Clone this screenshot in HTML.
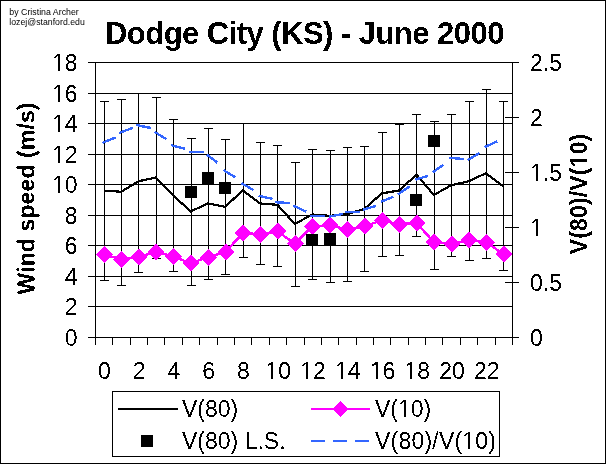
<!DOCTYPE html>
<html><head><meta charset="utf-8"><style>
html,body{margin:0;padding:0;background:#fff;}
svg{display:block;}
text{filter:url(#bin);font-family:"Liberation Sans",Arial,sans-serif;fill:#000;}
</style></head><body>
<svg width="607" height="465" viewBox="0 0 607 465">
<defs><filter id="bin" x="-0.2" y="-0.2" width="1.4" height="1.4"><feComponentTransfer><feFuncA type="discrete" tableValues="0 1"/></feComponentTransfer></filter></defs>
<rect x="0" y="0" width="607" height="465" fill="#fff"/>
<rect x="0.5" y="0.5" width="605" height="463" fill="none" stroke="#000" stroke-width="1" shape-rendering="crispEdges"/>

<text style="filter:none" x="9.3" y="15" font-size="8.8" textLength="69.5" lengthAdjust="spacingAndGlyphs">by Cristina Archer</text>
<text style="filter:none" x="9.3" y="25" font-size="8.8" textLength="75.5" lengthAdjust="spacingAndGlyphs">lozej@stanford.edu</text>
<text x="105" y="44" font-size="31" font-weight="bold" textLength="399.4" lengthAdjust="spacing">Dodge City (KS) - June 2000</text>
<path d="M88 62.5H519 M88 93.5H513 M88 123.5H513 M88 154.5H513 M88 184.5H513 M88 215.5H513 M88 245.5H513 M88 276.5H513 M88 306.5H513 M88 337.5H513" stroke="#000" stroke-width="1" fill="none" shape-rendering="crispEdges"/>
<path d="M505 62.5H519 M505 117.5H519 M505 172.5H519 M505 227.5H519 M505 282.5H519 M505 337.5H519" stroke="#000" stroke-width="1" fill="none" shape-rendering="crispEdges"/>
<path d="M95.5 62V338 M512.5 62V338 M95 337.5H513" stroke="#000" stroke-width="1" fill="none" shape-rendering="crispEdges"/>
<path d="M95.5 337V345 M112.5 337V345 M130.5 337V345 M147.5 337V345 M164.5 337V345 M182.5 337V345 M199.5 337V345 M217.5 337V345 M234.5 337V345 M251.5 337V345 M269.5 337V345 M286.5 337V345 M304.5 337V345 M321.5 337V345 M338.5 337V345 M356.5 337V345 M373.5 337V345 M390.5 337V345 M408.5 337V345 M425.5 337V345 M442.5 337V345 M460.5 337V345 M477.5 337V345 M495.5 337V345 M512.5 337V345" stroke="#000" stroke-width="1" fill="none" shape-rendering="crispEdges"/>
<text x="77.5" y="71" font-size="23" text-anchor="end">18</text>
<text x="77.5" y="102" font-size="23" text-anchor="end">16</text>
<text x="77.5" y="132" font-size="23" text-anchor="end">14</text>
<text x="77.5" y="163" font-size="23" text-anchor="end">12</text>
<text x="77.5" y="193" font-size="23" text-anchor="end">10</text>
<text x="77.5" y="224" font-size="23" text-anchor="end">8</text>
<text x="77.5" y="254" font-size="23" text-anchor="end">6</text>
<text x="77.5" y="285" font-size="23" text-anchor="end">4</text>
<text x="77.5" y="315" font-size="23" text-anchor="end">2</text>
<text x="77.5" y="346" font-size="23" text-anchor="end">0</text>
<text x="530" y="71" font-size="23">2.5</text>
<text x="530" y="126" font-size="23">2</text>
<text x="530" y="181" font-size="23">1.5</text>
<text x="530" y="236" font-size="23">1</text>
<text x="530" y="291" font-size="23">0.5</text>
<text x="530" y="346" font-size="23">0</text>
<text x="104.49" y="379" font-size="23" text-anchor="middle">0</text>
<text x="139.24" y="379" font-size="23" text-anchor="middle">2</text>
<text x="173.99" y="379" font-size="23" text-anchor="middle">4</text>
<text x="208.74" y="379" font-size="23" text-anchor="middle">6</text>
<text x="243.49" y="379" font-size="23" text-anchor="middle">8</text>
<text x="278.24" y="379" font-size="23" text-anchor="middle">10</text>
<text x="312.99" y="379" font-size="23" text-anchor="middle">12</text>
<text x="347.74" y="379" font-size="23" text-anchor="middle">14</text>
<text x="382.49" y="379" font-size="23" text-anchor="middle">16</text>
<text x="417.24" y="379" font-size="23" text-anchor="middle">18</text>
<text x="451.99" y="379" font-size="23" text-anchor="middle">20</text>
<text x="486.74" y="379" font-size="23" text-anchor="middle">22</text>
<text transform="translate(34.5 198.5) rotate(-90)" font-size="23" font-weight="bold" text-anchor="middle" textLength="192" lengthAdjust="spacing">Wind speed (m/s)</text>
<text transform="translate(587 194) rotate(-90)" font-size="23" font-weight="bold" text-anchor="middle" textLength="120.5" lengthAdjust="spacing">V(80)/V(10)</text>
<path d="M104.5 101V281 M100 101.5H109 M100 280.5H109 M121.5 99V286 M117 99.5H126 M117 285.5H126 M138.5 93V273 M134 93.5H143 M134 272.5H143 M156.5 97V259 M152 97.5H161 M152 258.5H161 M173.5 119V272 M169 119.5H178 M169 271.5H178 M191.5 138V286 M187 138.5H196 M187 285.5H196 M208.5 128V280 M204 128.5H213 M204 279.5H213 M225.5 139V275 M221 139.5H230 M221 274.5H230 M243.5 123V258 M239 123.5H248 M239 257.5H248 M260.5 142V265 M256 142.5H265 M256 264.5H265 M277.5 145V267 M273 145.5H282 M273 266.5H282 M295.5 162V287 M291 162.5H300 M291 286.5H300 M312.5 149V280 M308 149.5H317 M308 279.5H317 M330.5 150V283 M326 150.5H335 M326 282.5H335 M347.5 147V282 M343 147.5H352 M343 281.5H352 M364.5 146V272 M360 146.5H369 M360 271.5H369 M382.5 132V257 M378 132.5H387 M378 256.5H387 M399.5 124V256 M395 124.5H404 M395 255.5H404 M416.5 114V237 M412 114.5H421 M412 236.5H421 M434.5 121V270 M430 121.5H439 M430 269.5H439 M451.5 114V257 M447 114.5H456 M447 256.5H456 M469.5 101V261 M465 101.5H474 M465 260.5H474 M486.5 89V259 M482 89.5H491 M482 258.5H491 M503.5 101V271 M499 101.5H508 M499 270.5H508" stroke="#000" stroke-width="1" fill="none" shape-rendering="crispEdges"/>
<polyline shape-rendering="crispEdges" points="103.69,190.50 121.06,191.80 138.44,181.30 155.81,177.50 173.19,195.30 190.56,211.50 207.94,203.50 225.31,206.80 242.69,190.30 260.06,203.50 277.44,204.80 294.81,224.00 312.19,214.50 329.56,215.80 346.94,214.20 364.31,209.00 381.69,193.40 399.06,190.50 416.44,174.70 433.81,195.00 451.19,185.20 468.56,181.30 485.94,173.20 503.31,186.30" stroke="#000" stroke-width="2.2" fill="none" stroke-linejoin="round"/>
<polyline shape-rendering="crispEdges" points="103.69,254.40 121.06,259.30 138.44,257.20 155.81,251.90 173.19,256.40 190.56,263.30 207.94,257.20 225.31,252.10 242.69,233.30 260.06,234.10 277.44,231.40 294.81,243.60 312.19,226.50 329.56,225.40 346.94,229.30 364.31,226.30 381.69,220.40 399.06,224.40 416.44,222.80 433.81,242.10 451.19,243.90 468.56,240.10 485.94,242.10 503.31,254.00" stroke="#f0f" stroke-width="2.5" fill="none" stroke-linejoin="round"/>
<path shape-rendering="crispEdges" d="M104.19 245.90L112.69 254.40L104.19 262.90L95.69 254.40Z M121.56 250.80L130.06 259.30L121.56 267.80L113.06 259.30Z M138.94 248.70L147.44 257.20L138.94 265.70L130.44 257.20Z M156.31 243.40L164.81 251.90L156.31 260.40L147.81 251.90Z M173.69 247.90L182.19 256.40L173.69 264.90L165.19 256.40Z M191.06 254.80L199.56 263.30L191.06 271.80L182.56 263.30Z M208.44 248.70L216.94 257.20L208.44 265.70L199.94 257.20Z M225.81 243.60L234.31 252.10L225.81 260.60L217.31 252.10Z M243.19 224.80L251.69 233.30L243.19 241.80L234.69 233.30Z M260.56 225.60L269.06 234.10L260.56 242.60L252.06 234.10Z M277.94 222.90L286.44 231.40L277.94 239.90L269.44 231.40Z M295.31 235.10L303.81 243.60L295.31 252.10L286.81 243.60Z M312.69 218.00L321.19 226.50L312.69 235.00L304.19 226.50Z M330.06 216.90L338.56 225.40L330.06 233.90L321.56 225.40Z M347.44 220.80L355.94 229.30L347.44 237.80L338.94 229.30Z M364.81 217.80L373.31 226.30L364.81 234.80L356.31 226.30Z M382.19 211.90L390.69 220.40L382.19 228.90L373.69 220.40Z M399.56 215.90L408.06 224.40L399.56 232.90L391.06 224.40Z M416.94 214.30L425.44 222.80L416.94 231.30L408.44 222.80Z M434.31 233.60L442.81 242.10L434.31 250.60L425.81 242.10Z M451.69 235.40L460.19 243.90L451.69 252.40L443.19 243.90Z M469.06 231.60L477.56 240.10L469.06 248.60L460.56 240.10Z M486.44 233.60L494.94 242.10L486.44 250.60L477.94 242.10Z M503.81 245.50L512.31 254.00L503.81 262.50L495.31 254.00Z" fill="#f0f"/>
<path d="M185 186h12v12h-12Z M202 172h12v12h-12Z M219 182h12v12h-12Z M306 234h12v12h-12Z M324 233h12v12h-12Z M410 194h12v12h-12Z M428 135h12v12h-12Z" fill="#000"/>
<path shape-rendering="crispEdges" d="M102.30 142.90L115.70 137.40M119.30 133.00L132.80 127.80M136.30 125.00L150.80 128.00M154.40 131.80L166.60 139.30M171.30 145.20L184.90 148.70M189.30 152.00L203.80 152.00M206.70 154.50L217.30 162.60M223.70 170.20L235.40 177.30M241.60 183.20L253.60 190.30M258.50 195.70L272.60 198.90M275.40 202.20L289.80 203.00M293.30 205.70L306.20 211.60M310.40 215.80L324.80 215.80M328.90 216.80L342.90 213.80M345.40 212.00L359.80 212.20M363.10 209.70L375.80 206.00M380.90 201.70L393.50 196.80M397.60 194.60L409.60 186.30M415.30 179.70L427.70 176.00M432.70 172.40L443.40 164.70M449.20 157.90L463.80 159.00M467.60 160.10L479.40 153.10M484.70 147.10L497.40 141.30" stroke="#3366ff" stroke-width="2.4" fill="none" stroke-linecap="butt"/>
<rect x="112.5" y="391.5" width="387" height="65" fill="#fff" stroke="#000" stroke-width="1" shape-rendering="crispEdges"/>
<path d="M118 409H178" stroke="#000" stroke-width="2"/>
<text x="182" y="417" font-size="23">V(80)</text>
<path d="M311 409H370" stroke="#f0f" stroke-width="2"/>
<path shape-rendering="crispEdges" d="M340.5 400.5L348.5 409L340.5 417.5L332.5 409Z" fill="#f0f"/>
<text x="375" y="417" font-size="23">V(10)</text>
<rect x="141" y="435" width="12" height="12" fill="#000"/>
<text x="182" y="449" font-size="23">V(80) L.S.</text>
<path d="M311 441H371" stroke="#3366ff" stroke-width="2" stroke-dasharray="14 8"/>
<text x="375" y="449" font-size="23" textLength="121" lengthAdjust="spacing">V(80)/V(10)</text>
<path fill="#fff" d="M54 69h4v1h-4ZM60 69h3v1h-3ZM54 70h4v1h-4ZM60 70h4v1h-4ZM54 100h4v1h-4ZM60 100h3v1h-3ZM54 101h4v1h-4ZM60 101h4v1h-4ZM54 130h4v1h-4ZM60 130h3v1h-3ZM54 131h4v1h-4ZM60 131h4v1h-4ZM54 161h4v1h-4ZM60 161h3v1h-3ZM54 162h4v1h-4ZM60 162h4v1h-4ZM54 191h4v1h-4ZM60 191h3v1h-3ZM54 192h4v1h-4ZM60 192h4v1h-4ZM532 179h4v1h-4ZM538 179h3v1h-3ZM532 180h4v1h-4ZM538 180h4v1h-4ZM532 234h4v1h-4ZM538 234h3v1h-3ZM532 235h4v1h-4ZM538 235h4v1h-4ZM267 377h4v1h-4ZM273 377h4v1h-4ZM267 378h4v1h-4ZM273 378h4v1h-4ZM302 377h4v1h-4ZM308 377h4v1h-4ZM302 378h4v1h-4ZM308 378h4v1h-4ZM337 377h4v1h-4ZM343 377h3v1h-3ZM337 378h4v1h-4ZM343 378h4v1h-4ZM372 377h4v1h-4ZM378 377h3v1h-3ZM372 378h4v1h-4ZM378 378h3v1h-3ZM406 377h4v1h-4ZM412 377h4v1h-4ZM406 378h4v1h-4ZM412 378h4v1h-4ZM585 155h2v1h-2ZM585 156h2v1h-2ZM585 157h2v1h-2ZM584 158h3v1h-3ZM585 162h2v1h-2ZM585 163h2v1h-2ZM585 164h2v1h-2ZM585 165h2v1h-2ZM400 415h4v1h-4ZM406 415h3v1h-3ZM400 416h4v1h-4ZM406 416h4v1h-4ZM464 447h4v1h-4ZM470 447h4v1h-4ZM464 448h4v1h-4ZM470 448h4v1h-4Z"/>
</svg></body></html>
